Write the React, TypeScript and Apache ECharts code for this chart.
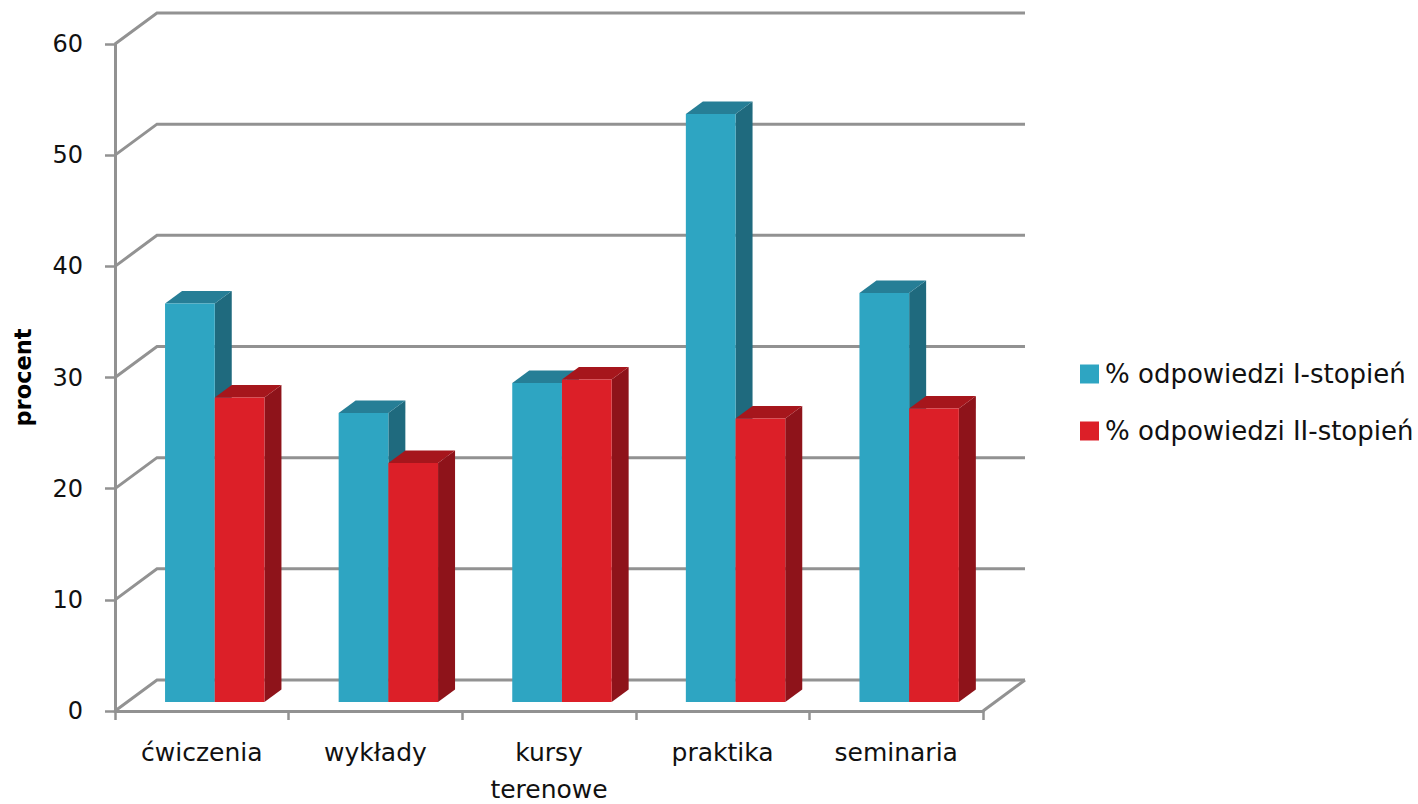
import React, { useEffect, useRef } from "react";
import * as echarts from "echarts";

const categories = ["ćwiczenia", "wykłady", "kursy\nterenowe", "praktika", "seminaria"];
const firstDegree = [35.85, 26, 28.7, 52.9, 36.8];
const secondDegree = [27.4, 21.5, 29, 25.5, 26.4];
const yTicks = [0, 10, 20, 30, 40, 50, 60];
const seriesNames = ["% odpowiedzi I-stopień", "% odpowiedzi II-stopień"];

const FONT = "DejaVu Sans";
const GRID = "#929292";
const DEPTH_X = 42;
const DEPTH_Y = -31;
const BAR_W = 49.7;
const BAR_DX = 17;
const BAR_DY = -12.5;
const BASE_OFFSET = -9;

const wallRender = (params: any, api: any) => {
  const v = api.value(1);
  const left = api.coord([0, v]);
  const axisLeft = left[0] - api.size([1, 0])[0] / 2;
  const width = api.size([1, 0])[0] * categories.length;
  const y = left[1];
  const children: any[] = [
    {
      type: "polyline",
      shape: {
        points: [
          [axisLeft, y],
          [axisLeft + DEPTH_X, y + DEPTH_Y],
          [axisLeft + width + DEPTH_X, y + DEPTH_Y],
        ],
      },
      style: { stroke: GRID, lineWidth: 3, fill: "none" },
    },
  ];
  if (v === 0) {
    children.push({
      type: "line",
      shape: { x1: axisLeft + width, y1: y, x2: axisLeft + width + DEPTH_X, y2: y + DEPTH_Y },
      style: { stroke: GRID, lineWidth: 3 },
    });
  }
  return { type: "group", children };
};

const barRender = (offsetFromCenter: number, front: string, top: string, side: string) => (params: any, api: any) => {
  const i = api.value(0);
  const v = api.value(1);
  const base = api.coord([i, 0]);
  const tip = api.coord([i, v]);
  const x0 = base[0] + offsetFromCenter;
  const x1 = x0 + BAR_W;
  const yb = base[1] + BASE_OFFSET;
  const yt = tip[1] + BASE_OFFSET;
  return {
    type: "group",
    children: [
      {
        type: "polygon",
        shape: { points: [[x1, yb], [x1, yt], [x1 + BAR_DX, yt + BAR_DY], [x1 + BAR_DX, yb + BAR_DY]] },
        style: { fill: side },
      },
      {
        type: "polygon",
        shape: { points: [[x0, yt], [x1, yt], [x1 + BAR_DX, yt + BAR_DY], [x0 + BAR_DX, yt + BAR_DY]] },
        style: { fill: top },
      },
      { type: "rect", shape: { x: x0, y: yt, width: BAR_W, height: yb - yt }, style: { fill: front } },
    ],
  };
};

export default function App() {
  const ref = useRef<HTMLDivElement>(null);
  useEffect(() => {
    document.body.style.margin = "0";
    const chart = echarts.init(ref.current!, undefined, { renderer: "svg" });
    chart.setOption({
      animation: false,
      backgroundColor: "#ffffff",
      textStyle: { fontFamily: FONT },
      grid: { left: 115, top: 44, width: 868, height: 667, containLabel: false, outerBoundsMode: "none" },
      legend: {
        data: seriesNames.map((name, k) => ({ name, itemStyle: { color: k === 0 ? "#2EA5C2" : "#DC1F28" } })),
        orient: "vertical",
        left: 1075,
        top: 356,
        itemWidth: 19,
        itemHeight: 19,
        itemGap: 31,
        icon: "rect",
        selectedMode: false,
        textStyle: { fontFamily: FONT, fontSize: 26, color: "#111", padding: [0, 0, 0, 1] },
      },
      xAxis: {
        type: "category",
        data: categories,
        axisLine: { lineStyle: { color: GRID, width: 3 } },
        axisTick: { show: true, alignWithLabel: false, length: 9, lineStyle: { color: GRID, width: 2.5 } },
        axisLabel: { color: "#111", fontFamily: FONT, fontSize: 25, lineHeight: 37, margin: 22.5, interval: 0 },
      },
      yAxis: {
        type: "value",
        min: 0,
        max: 60,
        interval: 10,
        splitLine: { show: false },
        axisLine: { show: true, lineStyle: { color: GRID, width: 3 } },
        axisTick: { show: true, length: 10, lineStyle: { color: GRID, width: 2.5 } },
        axisLabel: { color: "#111", fontFamily: FONT, fontSize: 24, margin: 32 },
        name: "procent",
        nameLocation: "middle",
        nameRotate: 90,
        nameGap: 81,
        nameTextStyle: { color: "#000", fontFamily: FONT, fontWeight: "bold", fontSize: 22.5 },
      },
      series: [
        {
          type: "custom",
          name: "walls",
          silent: true,
          z: 1,
          renderItem: wallRender,
          data: yTicks.map((v) => [0, v]),
          encode: { x: 0, y: 1 },
        },
        {
          type: "custom",
          name: seriesNames[0],
          z: 2,
          itemStyle: { color: "#2EA5C2" },
          renderItem: barRender(-36.75, "#2EA5C2", "#267E96", "#1F6A7E"),
          data: firstDegree.map((v, i) => [i, v]),
          encode: { x: 0, y: 1 },
        },
        {
          type: "custom",
          name: seriesNames[1],
          z: 3,
          itemStyle: { color: "#DC1F28" },
          renderItem: barRender(12.95, "#DC1F28", "#A6161C", "#8E131A"),
          data: secondDegree.map((v, i) => [i, v]),
          encode: { x: 0, y: 1 },
        },
      ],
    });
    return () => chart.dispose();
  }, []);
  return <div ref={ref} style={{ width: 1418, height: 804, position: "absolute", left: 0, top: 0 }} />;
}
